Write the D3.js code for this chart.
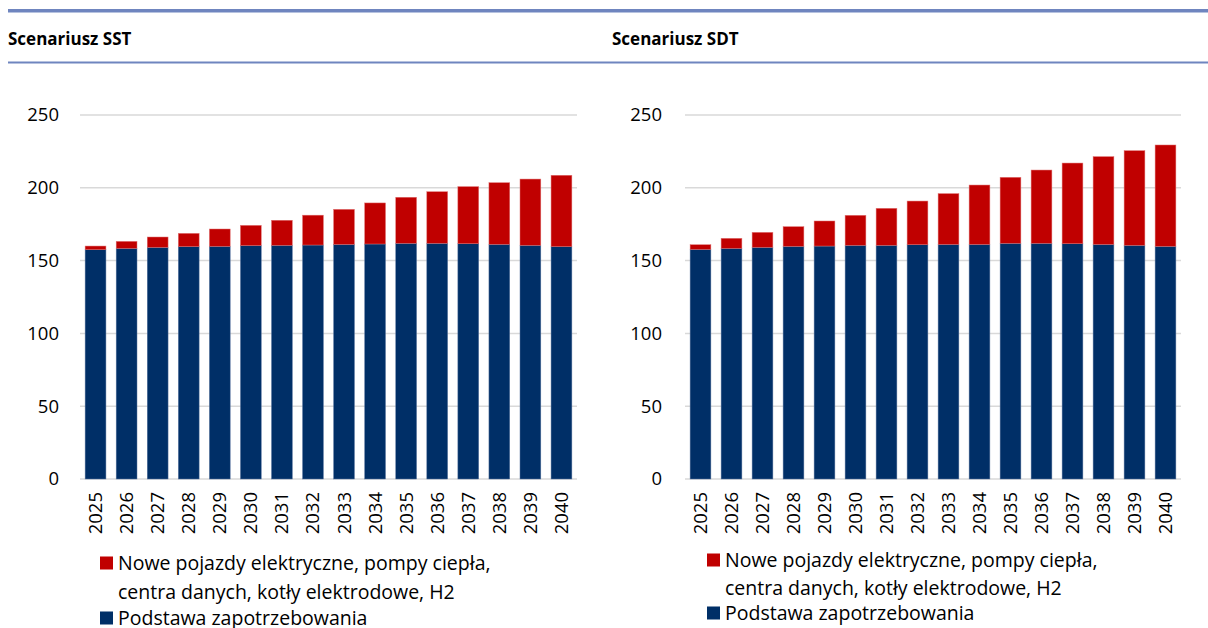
<!DOCTYPE html>
<html>
<head>
<meta charset="utf-8">
<script src="https://cdn.jsdelivr.net/npm/d3@7"></script>
<style>
  body { margin: 0; background: #fff; }
  svg { display: block; }
</style>
</head>
<body>
<svg id="plotSvg" width="1208" height="628"></svg>
<script>
// data
var years = ["2025","2026","2027","2028","2029","2030","2031","2032","2033","2034","2035","2036","2037","2038","2039","2040"];
var sstBase  = [157.5,158.4,159.1,159.6,159.8,160.3,160.5,160.7,161.1,161.4,161.9,161.9,161.6,161.2,160.5,159.6];
var sstTotal = [160.0,163.2,166.2,168.7,171.7,174.2,177.7,181.2,185.2,189.6,193.5,197.3,200.8,203.5,206.0,208.6];
var sdtBase  = [157.7,158.4,159.1,159.8,160.0,160.5,160.5,160.9,161.1,161.1,161.9,161.9,161.6,161.1,160.5,159.8];
var sdtTotal = [160.9,165.3,169.4,173.3,177.2,181.1,185.9,190.9,196.0,201.9,207.2,212.2,217.0,221.4,225.5,229.4];
var yTicks = [0, 50, 100, 150, 200, 250];
var seriesNames = ["Nowe pojazdy elektryczne, pompy ciepła,|centra danych, kotły elektrodowe, H2", "Podstawa zapotrzebowania"];
var colors = { base: "#002f67", extra: "#c00000", rule: "#6f85bf", grid: "#d9d9d9" };

var svg = d3.select("#plotSvg");
var font = "'Open Sans', 'Noto Sans', sans-serif";

// header rules
svg.append("rect").attr("x", 8).attr("y", 9).attr("width", 1200).attr("height", 3.5).attr("fill", colors.rule);
svg.append("rect").attr("x", 8).attr("y", 61.5).attr("width", 1200).attr("height", 2).attr("fill", colors.rule);

function drawPanel(opts) {
    var g = svg.append("g");

    g.append("text")
        .attr("x", opts.titleX).attr("y", 45)
        .attr("font-family", font).attr("font-weight", "bold").attr("font-size", 17)
        .attr("fill", "#000")
        .text(opts.title);

    var x = d3.scaleBand().domain(years).range([opts.x0, opts.x1]).paddingInner(0.33).paddingOuter(0.165);
    var y = d3.scaleLinear().domain([0, 250]).range([479, 115]);

    // gridlines
    g.selectAll("line.grid")
        .data(yTicks)
        .enter().append("line")
        .attr("class", "grid")
        .attr("x1", opts.x0).attr("x2", opts.x1)
        .attr("y1", function (d) { return y(d); })
        .attr("y2", function (d) { return y(d); })
        .attr("stroke", colors.grid).attr("stroke-width", 1.5);

    var yAxis = d3.axisLeft(y).tickValues(yTicks).tickSize(0).tickPadding(opts.x0 - opts.labelRight);
    var ya = g.append("g").attr("transform", "translate(" + opts.x0 + ",0)").call(yAxis);
    ya.select(".domain").remove();
    ya.selectAll("text").attr("font-family", font).attr("font-size", 18.5).attr("fill", "#000");

    var rows = years.map(function (yr, i) {
        return { year: yr, base: opts.base[i], total: opts.total[i] };
    });

    g.selectAll("rect.base")
        .data(rows)
        .enter().append("rect")
        .attr("x", function (d) { return x(d.year); })
        .attr("width", x.bandwidth())
        .attr("y", function (d) { return y(d.base); })
        .attr("height", function (d) { return y(0) - y(d.base); })
        .attr("fill", colors.base)
        .attr("stroke", "#5a76a0").attr("stroke-width", 0.5);

    g.selectAll("rect.extra")
        .data(rows)
        .enter().append("rect")
        .attr("x", function (d) { return x(d.year); })
        .attr("width", x.bandwidth())
        .attr("y", function (d) { return y(d.total); })
        .attr("height", function (d) { return y(d.base) - y(d.total); })
        .attr("fill", colors.extra)
        .attr("stroke", "#e07070").attr("stroke-width", 0.5);

    var xAxis = d3.axisBottom(x).tickSize(0).tickPadding(0);
    var xa = g.append("g").attr("transform", "translate(0," + y(0) + ")").call(xAxis);
    xa.select(".domain").remove();
    xa.selectAll("text")
        .attr("font-family", font).attr("font-size", 18.5).attr("fill", "#000")
        .attr("transform", "rotate(-90)")
        .attr("text-anchor", "end")
        .attr("x", -13).attr("y", 0).attr("dy", "0.35em");

    // legend
    var lg = g.append("g").attr("font-family", font).attr("font-size", 19.5).attr("fill", "#000");
    var keys = [colors.extra, colors.base];
    var rowY = [[opts.legY[0], opts.legY[1]], [opts.legY[2]]];
    seriesNames.forEach(function (name, k) {
        var lines = name.split("|");
        lg.append("rect")
            .attr("x", opts.legX).attr("y", rowY[k][0] - 6.5)
            .attr("width", 13).attr("height", 13)
            .attr("fill", keys[k]);
        lines.forEach(function (ln, j) {
            lg.append("text")
                .attr("x", opts.legX + 18).attr("y", rowY[k][j])
                .attr("dy", "0.35em")
                .text(ln);
        });
    });
}

drawPanel({ title: "Scenariusz SST", titleX: 8, x0: 80, x1: 577, labelRight: 59,
            base: sstBase, total: sstTotal, legX: 100, legY: [563, 592, 618] });
drawPanel({ title: "Scenariusz SDT", titleX: 612, x0: 685, x1: 1181, labelRight: 662,
            base: sdtBase, total: sdtTotal, legX: 707, legY: [560, 588, 613] });
</script>
</body>
</html>
